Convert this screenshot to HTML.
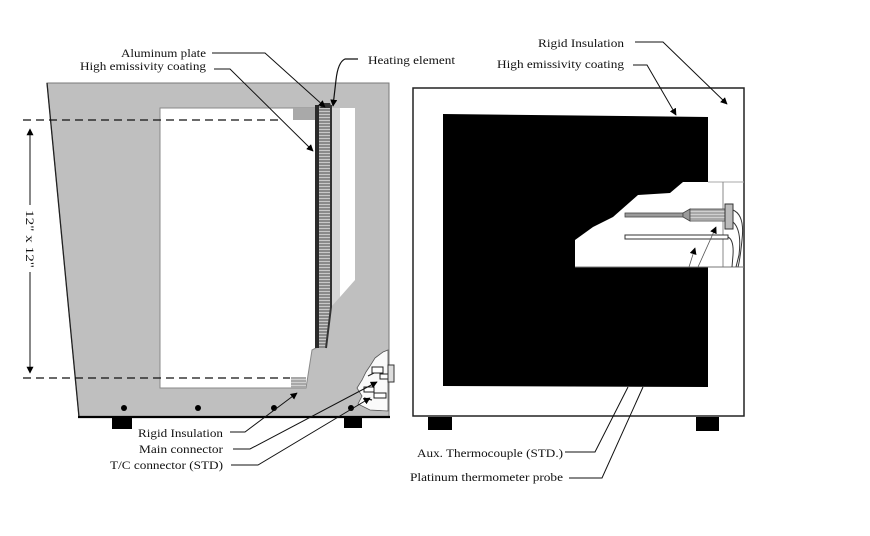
<!DOCTYPE html>
<html><head><meta charset="utf-8"><style>
html,body{margin:0;padding:0;background:#fff;}
svg{display:block;}
text{font-family:"Liberation Serif",serif;font-size:12px;fill:#111;}
</style></head><body>
<svg width="870" height="536" viewBox="0 0 870 536" xmlns="http://www.w3.org/2000/svg">
<defs>
<pattern id="hatch" width="4" height="3" patternUnits="userSpaceOnUse">
<rect width="4" height="3" fill="#8a8a8a"/>
<rect y="0" width="4" height="1" fill="#c8c8c8"/>
</pattern>
<pattern id="hatch2" width="3" height="3" patternUnits="userSpaceOnUse">
<rect width="3" height="3" fill="#a8a8a8"/>
<rect y="1" width="3" height="1" fill="#d0d0d0"/>
</pattern>
<marker id="ah" viewBox="0 0 10 10" refX="9" refY="5" markerWidth="7" markerHeight="7" orient="auto" markerUnits="userSpaceOnUse">
<path d="M0,0 L10,5 L0,10 z" fill="#000"/>
</marker>
</defs>

<!-- LEFT BOX -->
<polygon points="47,83 389,83 389,417 79,417" fill="#bfbfbf" stroke="#7a7a7a" stroke-width="1"/>
<line x1="47" y1="83" x2="79" y2="417" stroke="#222" stroke-width="1.3"/>
<line x1="78" y1="417" x2="390" y2="417" stroke="#000" stroke-width="2.2"/>
<!-- cavity -->
<polygon points="160,108 316,108 316,348 312,350 306,388 160,388" fill="#fff" stroke="#8a8a8a" stroke-width="1"/>
<rect x="293" y="108" width="23" height="12" fill="#a9a9a9"/>
<rect x="291" y="377" width="15" height="11" fill="url(#hatch2)"/>
<!-- slot + light strip -->
<polygon points="340,108 355,108 355,280 340,297" fill="#fff"/>
<polygon points="331,108 340,108 340,297 331,307" fill="#d6d6d6"/>
<!-- heater -->
<polygon points="318,105 330,105 330,307 325,348 318,348" fill="url(#hatch)"/>
<rect x="315" y="105" width="4" height="243" fill="#2a2a2a"/>
<polyline points="331,105 331,307 326,348" fill="none" stroke="#333" stroke-width="2"/>
<polygon points="322,103 330,103 332,108 320,108" fill="#333"/>

<!-- connector region -->
<polygon points="375,358 383,352 388,350 388,411 370,410 358,404 362,396 357,388 362,380 366,372 370,366" fill="#fafafa" stroke="#555" stroke-width="0.8"/>
<rect x="372" y="367" width="11" height="6" fill="#fff" stroke="#222" stroke-width="1"/>
<rect x="380" y="374" width="8" height="5" fill="#fff" stroke="#222" stroke-width="1"/>
<rect x="364" y="387" width="10" height="5" fill="#fff" stroke="#222" stroke-width="1"/>
<rect x="374" y="393" width="12" height="5" fill="#fff" stroke="#222" stroke-width="1"/>
<path d="M368,376 l6,-3 M364,398 l8,2" stroke="#222" stroke-width="1.2"/>
<rect x="388" y="365" width="6" height="17" fill="#ddd" stroke="#333" stroke-width="1"/>

<!-- dashed lines -->
<line x1="23" y1="120" x2="278" y2="120" stroke="#111" stroke-width="1.2" stroke-dasharray="8,5"/>
<line x1="23" y1="378" x2="290" y2="378" stroke="#111" stroke-width="1.2" stroke-dasharray="8,5"/>

<!-- dimension -->
<line x1="30" y1="205" x2="30" y2="129" stroke="#111" stroke-width="1" marker-end="url(#ah)"/>
<line x1="30" y1="272" x2="30" y2="373" stroke="#111" stroke-width="1" marker-end="url(#ah)"/>
<text transform="translate(26,239) rotate(90)" text-anchor="middle" textLength="58" lengthAdjust="spacingAndGlyphs">12" x 12"</text>

<!-- dots -->
<circle cx="124" cy="408" r="3" fill="#000"/>
<circle cx="198" cy="408" r="3" fill="#000"/>
<circle cx="274" cy="408" r="3" fill="#000"/>
<circle cx="351" cy="408" r="3" fill="#000"/>
<!-- feet -->
<rect x="112" y="418" width="20" height="11" fill="#000"/>
<rect x="344" y="418" width="18" height="10" fill="#000"/>

<!-- left labels -->
<text x="206" y="57" text-anchor="end" textLength="85" lengthAdjust="spacingAndGlyphs">Aluminum plate</text>
<text x="206" y="70" text-anchor="end" textLength="126" lengthAdjust="spacingAndGlyphs">High emissivity coating</text>
<text x="368" y="64" textLength="87" lengthAdjust="spacingAndGlyphs">Heating element</text>
<polyline points="212,53 265,53 325,107" fill="none" stroke="#111" stroke-width="1" marker-end="url(#ah)"/>
<polyline points="214,69 230,69 313,151" fill="none" stroke="#111" stroke-width="1" marker-end="url(#ah)"/>
<path d="M358,59 L345,59 Q338,62 336,80 L333,106" fill="none" stroke="#111" stroke-width="1.2" marker-end="url(#ah)"/>

<text x="223" y="437" text-anchor="end" textLength="85" lengthAdjust="spacingAndGlyphs">Rigid Insulation</text>
<text x="223" y="453" text-anchor="end" textLength="84" lengthAdjust="spacingAndGlyphs">Main connector</text>
<text x="223" y="469" text-anchor="end" textLength="113" lengthAdjust="spacingAndGlyphs">T/C connector (STD)</text>
<polyline points="230,432 245,432 297,393" fill="none" stroke="#111" stroke-width="1" marker-end="url(#ah)"/>
<polyline points="233,449 250,449 377,382" fill="none" stroke="#111" stroke-width="1" marker-end="url(#ah)"/>
<polyline points="231,465 258,465 370,398" fill="none" stroke="#111" stroke-width="1" marker-end="url(#ah)"/>

<!-- RIGHT BOX -->
<rect x="413" y="88" width="331" height="328" fill="#fff" stroke="#222" stroke-width="1.5"/>
<polygon points="443,114 708,117 708,387 443,386" fill="#000"/>
<!-- cutout -->
<polygon points="683,182 723,182 723,267 575,267 575,240 593,227 613,217 638,195 670,193" fill="#fff"/>
<line x1="708" y1="182" x2="744" y2="182" stroke="#aaa" stroke-width="1"/>
<line x1="723" y1="182" x2="723" y2="267" stroke="#888" stroke-width="1"/>
<line x1="575" y1="267" x2="744" y2="267" stroke="#777" stroke-width="1"/>
<!-- probes -->
<rect x="625" y="213" width="58" height="4" fill="#9a9a9a" stroke="#444" stroke-width="0.8"/>
<polygon points="683,213 690,209 690,221 683,217" fill="#9a9a9a" stroke="#444" stroke-width="0.8"/>
<rect x="690" y="209" width="35" height="12" fill="url(#hatch2)" stroke="#444" stroke-width="0.8"/>
<rect x="725" y="204" width="8" height="25" fill="#bbb" stroke="#333" stroke-width="1"/>
<rect x="625" y="235" width="103" height="4" fill="#fff" stroke="#333" stroke-width="1"/>
<path d="M733,210 Q745,215 742,240 Q740,260 738,267" fill="none" stroke="#333" stroke-width="1"/>
<path d="M733,222 Q742,230 739,255 L736,267" fill="none" stroke="#333" stroke-width="1"/>
<path d="M728,237 Q734,240 733,255 L732,267" fill="none" stroke="#333" stroke-width="1"/>
<line x1="689" y1="267" x2="695" y2="248" stroke="#555" stroke-width="0.8" marker-end="url(#ah)"/>
<line x1="698" y1="267" x2="716" y2="227" stroke="#555" stroke-width="0.8" marker-end="url(#ah)"/>

<!-- right feet -->
<rect x="428" y="417" width="24" height="13" fill="#000"/>
<rect x="696" y="417" width="23" height="14" fill="#000"/>

<!-- right labels -->
<text x="624" y="47" text-anchor="end" textLength="86" lengthAdjust="spacingAndGlyphs">Rigid Insulation</text>
<text x="624" y="68" text-anchor="end" textLength="127" lengthAdjust="spacingAndGlyphs">High emissivity coating</text>
<polyline points="635,42 663,42 727,104" fill="none" stroke="#111" stroke-width="1" marker-end="url(#ah)"/>
<polyline points="633,65 647,65 676,115" fill="none" stroke="#111" stroke-width="1" marker-end="url(#ah)"/>

<text x="563" y="457" text-anchor="end" textLength="146" lengthAdjust="spacingAndGlyphs">Aux. Thermocouple (STD.)</text>
<text x="563" y="481" text-anchor="end" textLength="153" lengthAdjust="spacingAndGlyphs">Platinum thermometer probe</text>
<polyline points="565,452 595,452 628,387" fill="none" stroke="#111" stroke-width="1"/>
<polyline points="569,478 602,478 643,387" fill="none" stroke="#111" stroke-width="1"/>
</svg>
</body></html>
